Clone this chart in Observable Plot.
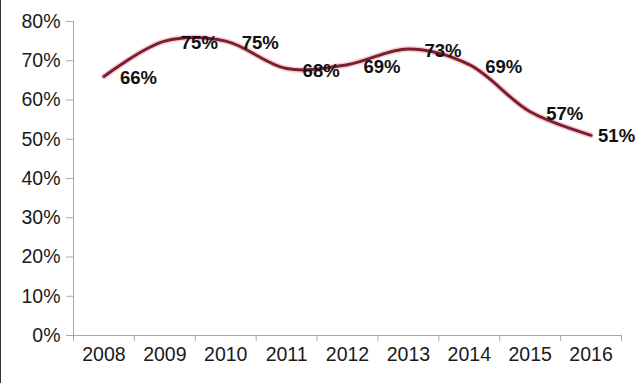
<!DOCTYPE html>
<html>
<head>
<meta charset="utf-8">
<script src="https://cdn.jsdelivr.net/npm/d3@7"></script>
<script src="https://cdn.jsdelivr.net/npm/@observablehq/plot@0.6"></script>
<style>
  html, body { margin: 0; padding: 0; background: #fff; }
  #chart { position: relative; width: 640px; height: 383px; overflow: hidden; }
  #chart svg { display: block; }
  #edge { position: absolute; left: 0; top: 0; width: 1px; height: 383px; background: #333; }
</style>
</head>
<body>
<div id="chart"><div id="edge"></div></div>
<script>
const years = [2008, 2009, 2010, 2011, 2012, 2013, 2014, 2015, 2016];
const shares = [0.66, 0.75, 0.75, 0.68, 0.69, 0.73, 0.69, 0.57, 0.51];
const labels = ["66%", "75%", "75%", "68%", "69%", "73%", "69%", "57%", "51%"];
const yTicks = [0, 0.1, 0.2, 0.3, 0.4, 0.5, 0.6, 0.7, 0.8];

const data = years.map((y, i) => ({year: y, share: shares[i], label: labels[i]}));
const bounds = d3.range(years[0] - 0.5, years[years.length - 1] + 1, 1);
const lastYear = years[years.length - 1];

const font = "Liberation Sans, Arial, sans-serif";

const plot = Plot.plot({
  width: 640,
  height: 383,
  marginLeft: 73,
  marginRight: 19,
  marginTop: 21,
  marginBottom: 48,
  style: {fontFamily: font, background: "#fff", overflow: "visible"},
  x: {domain: [years[0] - 0.5, lastYear + 0.5], axis: null, label: null},
  y: {domain: [0, 0.8], axis: null, label: null},
  marks: [
    Plot.axisY({ticks: yTicks, tickFormat: d3.format(".0%"), tickSize: 7, tickPadding: 6, stroke: "#aaa", fontSize: 19.5, fill: "#1a1a1a", label: null}),
    Plot.ruleX([bounds[0]], {y1: 0, y2: 0.8, stroke: "#aaa", strokeWidth: 1}),
    Plot.ruleY([0], {x1: bounds[0], x2: bounds[bounds.length - 1], stroke: "#aaa", strokeWidth: 1}),
    Plot.axisX({ticks: bounds, tickFormat: () => "", tickSize: 6, stroke: "#aaa", label: null}),
    Plot.axisX({ticks: years, tickFormat: d => String(d), tickSize: 0, tickPadding: 12, fontSize: 19.5, fill: "#1a1a1a", label: null}),
    Plot.line(data, {x: "year", y: "share", curve: "catmull-rom", stroke: "#f2c6cf", strokeWidth: 6, strokeOpacity: 0.8}),
    Plot.line(data, {x: "year", y: "share", curve: "catmull-rom", stroke: "#7b1f2f", strokeWidth: 3}),
    Plot.text(data, {filter: d => d.year !== lastYear, x: "year", y: "share", text: "label", textAnchor: "start", dx: 16, dy: 2, fontSize: 18.5, fontWeight: "bold", fill: "#111"}),
    Plot.text(data, {filter: d => d.year === lastYear, x: "year", y: "share", text: "label", textAnchor: "start", dx: 7, dy: 1, fontSize: 18.5, fontWeight: "bold", fill: "#111"})
  ]
});
document.getElementById("chart").appendChild(plot);
</script>
</body>
</html>
